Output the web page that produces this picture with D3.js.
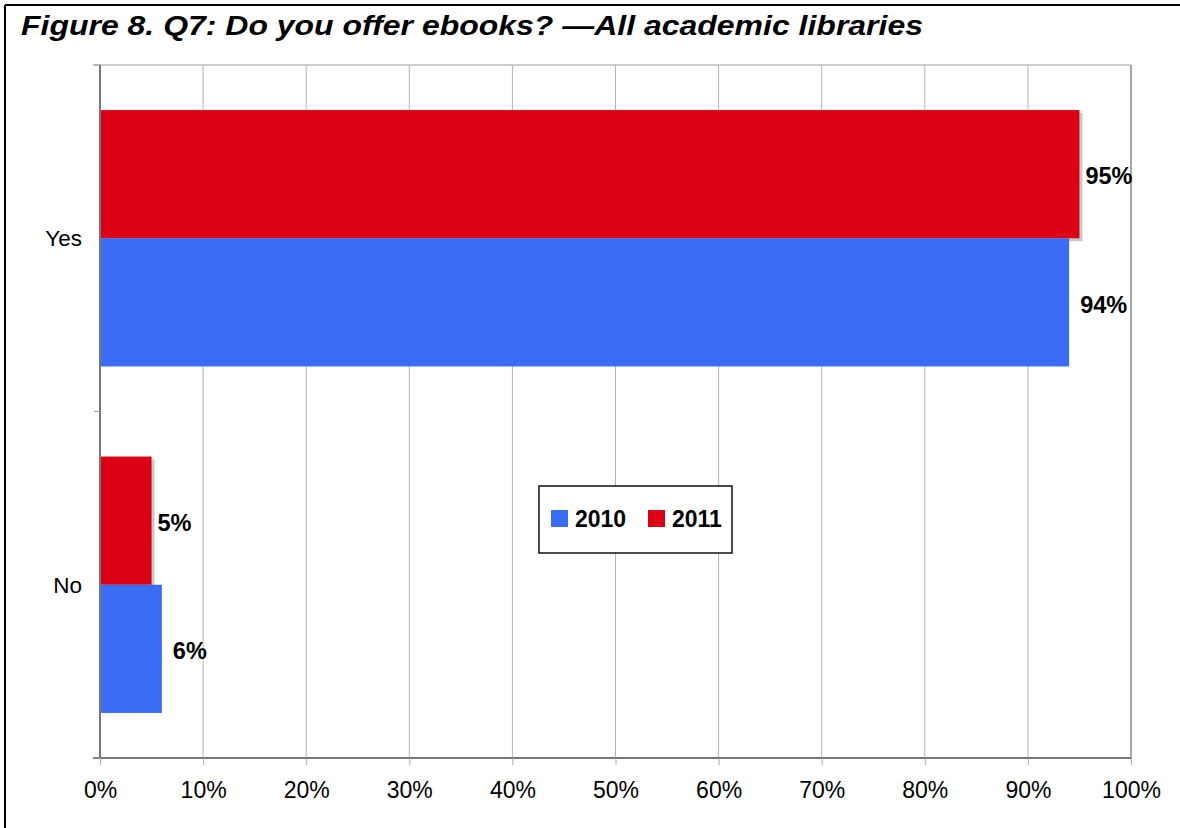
<!DOCTYPE html>
<html>
<head>
<meta charset="utf-8">
<script src="https://cdn.jsdelivr.net/npm/d3@7"></script>
<style>
  html, body { margin: 0; padding: 0; background: #fff; }
  svg { display: block; font-family: "Liberation Sans", Arial, sans-serif; }
</style>
</head>
<body>
<svg id="chart" width="1180" height="828"></svg>
<script>
// Survey answers, percent of respondents
const categories = ["Yes", "No"];
const seriesNames = ["2011", "2010"];       // drawn top to bottom within each answer
const legendOrder = ["2010", "2011"];
const values2010 = [94, 6];
const values2011 = [95, 5];
const xTicks = [0, 10, 20, 30, 40, 50, 60, 70, 80, 90, 100];
const title = "Figure 8. Q7: Do you offer ebooks? \u2014All academic libraries";

const colors = { "2010": "#3b6cf6", "2011": "#dc0014" };
const valuesBySeries = { "2010": values2010, "2011": values2011 };

const svg = d3.select("#chart");
const W = 1180, H = 828;
const margin = { left: 100, right: 49, top: 65, bottom: 70 };
const plotW = W - margin.left - margin.right;
const plotH = H - margin.top - margin.bottom;

// frame: top and left rules
svg.append("line").attr("x1", 5).attr("x2", W).attr("y1", 5).attr("y2", 5)
  .attr("stroke", "#000").attr("stroke-width", 2);
svg.append("line").attr("x1", 5).attr("x2", 5).attr("y1", 5).attr("y2", H)
  .attr("stroke", "#000").attr("stroke-width", 2);

// heading, stretched slightly to its set width
svg.append("text")
  .attr("x", 21).attr("y", 35)
  .attr("font-size", 28.5).attr("font-weight", "bold").attr("font-style", "italic")
  .attr("fill", "#000")
  .attr("textLength", 902).attr("lengthAdjust", "spacingAndGlyphs")
  .text(title);

const g = svg.append("g").attr("transform", `translate(${margin.left},${margin.top})`);

const x = d3.scaleLinear().domain([0, 100]).range([0, plotW]);
const y = d3.scaleBand().domain(categories).range([0, plotH]).paddingInner(0.26).paddingOuter(0.13);
const ySub = d3.scaleBand().domain(seriesNames).range([0, y.bandwidth()]);
const yEdges = d3.scaleBand().domain(categories).range([0, plotH]);

// vertical grid
g.append("g").selectAll("line").data(xTicks.slice(1, -1)).join("line")
  .attr("x1", d => x(d)).attr("x2", d => x(d))
  .attr("y1", 0).attr("y2", plotH)
  .attr("stroke", "#b4b4b4").attr("stroke-width", 1);

// top and right plot border
g.append("line").attr("x1", -7).attr("x2", plotW).attr("y1", 0).attr("y2", 0)
  .attr("stroke", "#999").attr("stroke-width", 1.2);
g.append("line").attr("x1", plotW).attr("x2", plotW).attr("y1", 0).attr("y2", plotH)
  .attr("stroke", "#888").attr("stroke-width", 1.5);

// bars
const rows = [];
categories.forEach((c, i) => {
  seriesNames.forEach(s => rows.push({ cat: c, series: s, value: valuesBySeries[s][i] }));
});

const barY = d => y(d.cat) + ySub(d.series);

// drop shadow under the 2011 bars
g.append("g").selectAll("rect").data(rows.filter(d => d.series === "2011")).join("rect")
  .attr("x", 3).attr("y", d => barY(d) + 3)
  .attr("width", d => x(d.value))
  .attr("height", ySub.bandwidth())
  .attr("fill", "#c8c8c8");

g.append("g").selectAll("rect").data(rows).join("rect")
  .attr("x", 0).attr("y", d => barY(d))
  .attr("width", d => x(d.value))
  .attr("height", ySub.bandwidth())
  .attr("fill", d => colors[d.series]);

// value labels
g.append("g").selectAll("text").data(rows).join("text")
  .attr("x", d => x(d.value) + (d.series === "2011" ? 6 : 11))
  .attr("y", d => barY(d) + ySub.bandwidth() / 2 + 2)
  .attr("dy", "0.35em")
  .attr("font-size", 23.5).attr("font-weight", "bold").attr("fill", "#000")
  .text(d => d.value + "%");

// x axis
const xAxis = g.append("g").attr("transform", `translate(0,${plotH})`)
  .call(d3.axisBottom(x).tickValues(xTicks).tickFormat(d => d + "%").tickSize(7).tickPadding(17));
xAxis.select(".domain").attr("stroke", "#777").attr("stroke-width", 2).attr("d", `M-7,0H${plotW}`);
xAxis.selectAll(".tick line").attr("stroke", "#aaa");
xAxis.selectAll("text").attr("font-size", 23).attr("fill", "#000")
  .attr("font-family", "Liberation Sans, Arial, sans-serif");

// y axis: ticks at category boundaries
const yAxisG = g.append("g");
yAxisG.append("line").attr("x1", 0).attr("x2", 0).attr("y1", 0).attr("y2", plotH)
  .attr("stroke", "#777").attr("stroke-width", 2);
const boundaries = categories.map(c => yEdges(c)).concat([plotH]);
yAxisG.selectAll("line.tick").data(boundaries).join("line").attr("class", "tick")
  .attr("x1", -6).attr("x2", 0).attr("y1", d => d).attr("y2", d => d)
  .attr("stroke", "#999");
yAxisG.selectAll("text").data(categories).join("text")
  .attr("x", -18).attr("y", d => yEdges(d) + yEdges.bandwidth() / 2)
  .attr("dy", "0.35em").attr("text-anchor", "end")
  .attr("font-size", 22.5).attr("fill", "#000")
  .text(d => d);

// legend
const legend = svg.append("g").attr("transform", "translate(539,486)");
legend.append("rect").attr("width", 193).attr("height", 67)
  .attr("fill", "#fff").attr("stroke", "#111").attr("stroke-width", 1.5);
const items = legend.selectAll("g").data(legendOrder).join("g")
  .attr("transform", (d, i) => `translate(${12 + i * 97},24)`);
items.append("rect").attr("width", 17).attr("height", 17).attr("fill", d => colors[d]);
items.append("text").attr("x", 24).attr("y", 8.5).attr("dy", "0.36em")
  .attr("font-size", 23).attr("font-weight", "bold").attr("fill", "#000")
  .text(d => d);
</script>
</body>
</html>
